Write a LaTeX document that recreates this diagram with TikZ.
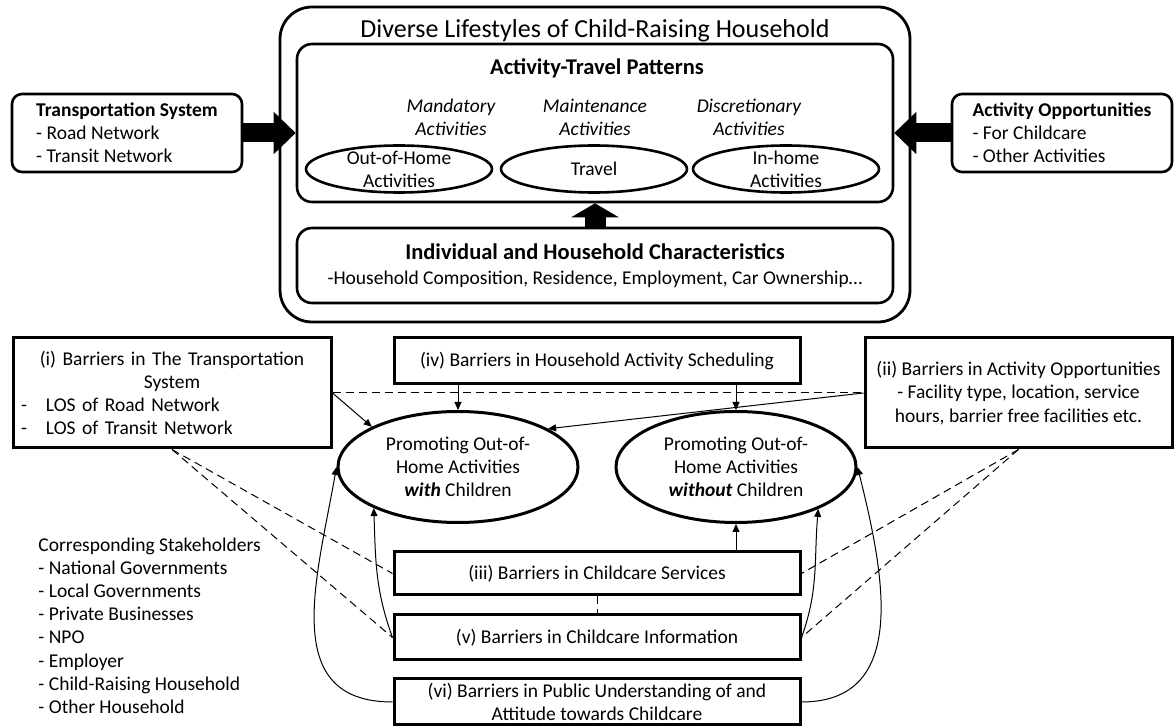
\documentclass[tikz,border=0pt]{standalone}
\usepackage{fontspec}
\setmainfont{Carlito}
\usetikzlibrary{arrows.meta,shapes.geometric,positioning}

\begin{document}
\begin{tikzpicture}[x=0.5pt,y=-0.5pt,line width=0.5pt,
    >={Triangle[length=4pt,width=3.5pt]},
    txt/.style={font=\fontsize{9.75pt}{11.6pt}\selectfont},
    ital/.style={font=\fontsize{9.75pt}{11.6pt}\selectfont\itshape,align=center},
    topbox/.style={draw,line width=1.3pt,rounded corners=5pt,inner sep=0pt,txt,align=left},
    barbox/.style={draw,line width=1.5pt,inner sep=1pt,align=center,txt},
    actell/.style={ellipse,draw,line width=1.3pt,minimum width=93pt,minimum height=23.5pt,inner sep=0pt},
    promell/.style={ellipse,draw,line width=1.5pt,minimum width=120pt,minimum height=55.5pt,inner sep=0pt,align=center,txt},
    bigarrow/.style n args={3}{line width=#1,-{Triangle[length=#2 0 0,width=#3 0 0]}},
    link/.style={->},
    dashlink/.style={dash pattern=on 4pt off 2.5pt}]
    \useasboundingbox (0,0) rectangle (1175,727);

    % upper part
    \node[draw,line width=1.4pt,rounded corners=16pt,minimum width=315pt,minimum height=157.5pt] (life) at (595,164.5) {};
    \node[font=\fontsize{13pt}{15pt}\selectfont] (title) at (595,31) {Diverse Lifestyles of Child-Raising Household};
    \node[draw,line width=1.3pt,rounded corners=7.5pt,minimum width=298pt,minimum height=79pt] (atp) at (595,123) {};
    \node[font=\fontsize{11.25pt}{13pt}\selectfont\bfseries] (atptitle) at (597,68) {Activity-Travel Patterns};
    \node[ital] (mand) at (451,117) {Mandatory\\Activities};
    \node[ital] (maint) at (595,117) {Maintenance\\Activities};
    \node[ital] (disc) at (749,117) {Discretionary\\Activities};
    \node[actell,label={[txt,align=center]center:Out-of-Home\\Activities}] (ooh) at (399,169) {};
    \node[actell,label={[txt]center:Travel}] (trav) at (594,169) {};
    \node[actell,label={[txt,align=center]center:In-home\\Activities}] (inh) at (786,169) {};

    \node[draw,line width=1.3pt,rounded corners=7.5pt,minimum width=298pt,minimum height=37.5pt,align=center,txt] (ihc) at (595,265.5)
        {{\fontsize{11.25pt}{13pt}\selectfont\bfseries Individual and Household Characteristics}\\[1pt]-Household Composition, Residence, Employment, Car Ownership…};

    \node[topbox,minimum width=115pt,minimum height=39pt] (trs) at (127,133)
        {\textbf{Transportation System}\\- Road Network\\- Transit Network};
    \node[topbox,minimum width=110pt,minimum height=39pt] (opp) at (1062,133)
        {\textbf{Activity Opportunities}\\- For Childcare\\- Other Activities};

    \draw[bigarrow={9.5pt}{11pt}{20.5pt}] (trs.east) -- (trs.east -| atp.west);
    \draw[bigarrow={9.5pt}{11pt}{20.5pt}] (opp.west) -- (opp.west -| atp.east);
    \draw[bigarrow={10.5pt}{7pt}{23.5pt}] (ihc.north) -- (atp.south);

    % lower part
    \node[barbox,inner xsep=4pt,text width=151pt,minimum height=55pt] (bts) at (172,393)
        {(i) Barriers in The Transportation\\System\\
        \makebox[\hsize][l]{\makebox[12.5pt][l]{-}LOS of Road Network}\\
        \makebox[\hsize][l]{\makebox[12.5pt][l]{-}LOS of Transit Network}};
    \node[barbox,minimum width=203pt,minimum height=23pt] (bhs) at (597,361) {(iv) Barriers in Household Activity Scheduling};
    \node[barbox,minimum width=153.5pt,minimum height=55pt] (bao) at (1018.5,393)
        {(ii) Barriers in Activity Opportunities\\- Facility type, location, service\\hours, barrier free facilities etc.};

    \node[promell] (with) at (458,467) {Promoting Out-of-\\Home Activities\\\textbf{\textit{with}} Children};
    \node[promell] (wout) at (736,467) {Promoting Out-of-\\Home Activities\\\textbf{\textit{without}} Children};

    \node[barbox,minimum width=203pt,minimum height=21.5pt] (bcs) at (597,573.5) {(iii) Barriers in Childcare Services};
    \node[barbox,minimum width=203pt,minimum height=22.5pt] (bci) at (597,637.5) {(v) Barriers in Childcare Information};
    \node[barbox,minimum width=203pt,minimum height=23pt] (bpu) at (597,702)
        {(vi) Barriers in Public Understanding of and\\Attitude towards Childcare};

    \node[txt,align=left,anchor=north west,inner sep=0pt] (stake) at (38,537)
        {Corresponding Stakeholders\\- National Governments\\- Local Governments\\- Private Businesses\\- NPO\\- Employer\\- Child-Raising Household\\- Other Household};

    \draw[link] (bhs.south -| with.north) -- (with.north);
    \draw[link] (bhs.south -| wout.north) -- (wout.north);
    \draw[dashlink] (bts.east) -- (bao.west);
    \draw[link] (bts.east) -- (with.155);
    \draw[link] (bao.west) -- (with.23);

    \draw[dashlink] (bts.south) -- (bcs.west);
    \draw[dashlink] (bts.south) -- (bci.west);
    \draw[dashlink] (bao.south) -- (bcs.east);
    \draw[dashlink] (bao.south) -- (bci.east);
    \draw[dashlink] (bcs.south) -- (bci.north);

    \draw[link] (bcs.north -| wout.south) -- (wout.south);
    \draw[link] (bci.west) to[out=110,in=-88] (with.206);
    \draw[link] (bpu.west) to[out=180,in=-100,looseness=1.2] (with.west);
    \draw[link] (bci.east) to[out=70,in=-95] (wout.-27);
    \draw[link] (bpu.east) to[out=0,in=-76,looseness=1.15] (wout.east);
\end{tikzpicture}
\end{document}
